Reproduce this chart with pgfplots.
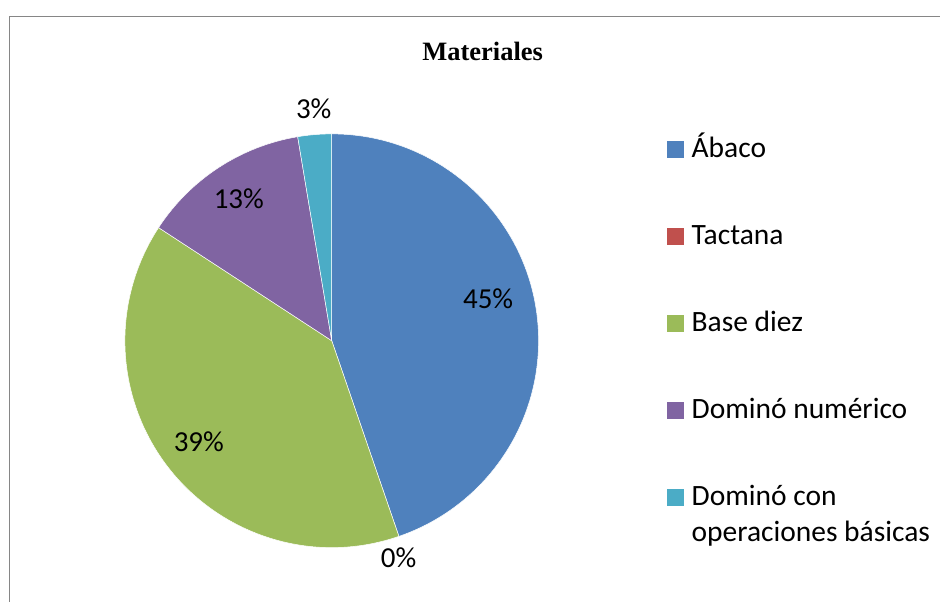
\documentclass[border=0pt]{standalone}
\usepackage{pgfplots}
\pgfplotsset{compat=1.18}
\usepackage{fontspec}
\setmainfont{Carlito}
\newfontfamily\titlefont{Liberation Serif}
\definecolor{cA}{HTML}{4F81BD}
\definecolor{cB}{HTML}{C0504D}
\definecolor{cC}{HTML}{9BBB59}
\definecolor{cD}{HTML}{8064A2}
\definecolor{cE}{HTML}{4BACC6}
\definecolor{frame}{HTML}{868686}
\begin{document}
\begin{tikzpicture}
% data: counts per material
\def\vA{17}\def\vB{0}\def\vC{15}\def\vD{5}\def\vE{1}
\pgfmathsetmacro{\tot}{\vA+\vB+\vC+\vD+\vE}
\pgfmathsetmacro{\aO}{90}
\pgfmathsetmacro{\aA}{\aO-\vA/\tot*360}
\pgfmathsetmacro{\aB}{\aA-\vB/\tot*360}
\pgfmathsetmacro{\aC}{\aB-\vC/\tot*360}
\pgfmathsetmacro{\aD}{\aC-\vD/\tot*360}
\pgfmathsetmacro{\aE}{\aD-\vE/\tot*360}
\begin{axis}[x=1pt,y=1pt,xmin=0,xmax=941,ymin=0,ymax=602,hide axis,clip=false,anchor=origin,at={(0,0)}]
\addplot[draw=none,forget plot] coordinates {(0,0) (941,602)};
\path (axis cs:0,0) rectangle (axis cs:941,602);
\draw[frame,line width=1.5pt] (axis cs:9.5,0) -- (axis cs:9.5,585.5) -- (axis cs:941,585.5);
% wedges
\fill[cA,draw=white,line width=0.5pt] (axis cs:332,261) -- ++(\aO:207pt) arc[start angle=\aO,end angle=\aA,radius=207pt] -- cycle;
\fill[cC,draw=white,line width=0.5pt] (axis cs:332,261) -- ++(\aB:207pt) arc[start angle=\aB,end angle=\aC,radius=207pt] -- cycle;
\fill[cD,draw=white,line width=0.5pt] (axis cs:332,261) -- ++(\aC:207pt) arc[start angle=\aC,end angle=\aD,radius=207pt] -- cycle;
\fill[cE,draw=white,line width=0.5pt] (axis cs:332,261) -- ++(\aD:207pt) arc[start angle=\aD,end angle=\aE,radius=207pt] -- cycle;
% title
\node[anchor=base,inner sep=0pt,font=\titlefont\bfseries\fontsize{26.5}{30}\selectfont] at (axis cs:483,541) {Materiales};
% data labels
\tikzset{lab/.style={anchor=base,inner sep=0pt,font=\fontsize{29}{35}\selectfont}}
\node[lab] at (axis cs:488.5,293) {45\%};
\node[lab] at (axis cs:399,34) {0\%};
\node[lab] at (axis cs:199,150) {39\%};
\node[lab] at (axis cs:239,393) {13\%};
\node[lab] at (axis cs:314,483) {3\%};
% legend
\fill[cA] (axis cs:668,444) rectangle (axis cs:685,461);
\fill[cB] (axis cs:668,357) rectangle (axis cs:685,374);
\fill[cC] (axis cs:668,270) rectangle (axis cs:685,287);
\fill[cD] (axis cs:668,183) rectangle (axis cs:685,200);
\fill[cE] (axis cs:668,96) rectangle (axis cs:685,113);
\tikzset{leg/.style={anchor=base west,inner sep=0pt,font=\fontsize{29.5}{35}\selectfont}}
\node[leg] at (axis cs:692,444) {Ábaco};
\node[leg] at (axis cs:692,357) {Tactana};
\node[leg] at (axis cs:692,270) {Base diez};
\node[leg] at (axis cs:692,183) {Dominó numérico};
\node[leg] at (axis cs:692,96) {Dominó con};
\node[leg] at (axis cs:692,60) {operaciones básicas};
\end{axis}
\end{tikzpicture}
\end{document}
